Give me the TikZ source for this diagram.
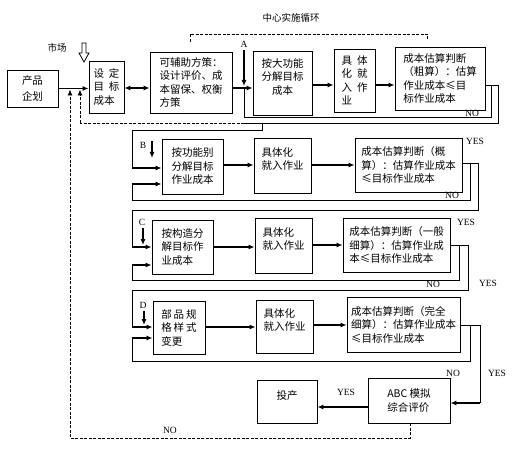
\documentclass[tikz,border=0pt]{standalone}
\usepackage{fontspec}
\setmainfont{Liberation Serif}
\newfontfamily\cjk{Noto Sans CJK SC}
\usetikzlibrary{arrows.meta,calc}
\begin{document}
\begin{tikzpicture}[x=1pt,y=-1pt,
  box/.style={draw, line width=0.9pt, inner sep=2pt, align=left, font=\cjk\fontsize{10.5}{13.5}\selectfont},
  lbl/.style={font=\fontsize{9.5}{10}\selectfont, inner sep=0},
  cjklbl/.style={font=\cjk\fontsize{9.5}{11}\selectfont, inner sep=0},
  conn/.style={line width=0.9pt},
  arr/.style={line width=1.1pt, -{Latex[length=6pt,width=5pt]}},
  dsh/.style={line width=0.9pt, dash pattern=on 3pt off 1.5pt},
]
\useasboundingbox (0,0) rectangle (515,452);
\fill[white] (0,0) rectangle (515,452);

% ---------- row 1 ----------
\node[box, minimum width=51pt, minimum height=37pt] (n1) at (32.5,88.5) {产品\\[3pt]企划};
\node[box, minimum width=35pt, minimum height=52pt] (n2) at (106.5,87) {设\hspace{5pt}定\\目\hspace{5pt}标\\成本};
\node[box, minimum width=82pt, minimum height=61pt] (n3) at (191,82.5) {可辅助方策：\\设计评价、成\\本留保、权衡\\方策};
\node[box, align=center, minimum width=59pt, minimum height=64pt] (n4) at (282.5,83) {按大功能\\分解目标\\成本\\~};
\node[box, minimum width=41pt, minimum height=63pt] (n5) at (354.5,80.5) {具\hspace{5pt}体\\化\hspace{5pt}就\\入\hspace{5pt}作\\业};
\node[box, minimum width=90pt, minimum height=63pt] (n6) at (440,78.5) {成本估算判断\\（粗算）：估算\\作业成本≤目\\标作业成本};

% ---------- row 2 ----------
\node[box, minimum width=61pt, minimum height=55pt] (n7) at (192.5,166.5) {按功能别\\分解目标\\作业成本};
\node[box, minimum width=57pt, minimum height=55pt] (n8) at (282.5,165.5) {具体化\\就入作业\\~};
\node[box, minimum width=107pt, minimum height=54pt] (n9) at (408.5,165) {成本估算判断（概\\算）：估算作业成本\\≤目标作业成本};

% ---------- row 3 ----------
\node[box, minimum width=61pt, minimum height=54pt] (n10) at (182.5,247) {按构造分\\解目标作\\业成本};
\node[box, minimum width=57pt, minimum height=55pt] (n11) at (283.5,245.5) {具体化\\就入作业\\~};
\node[box, minimum width=107pt, minimum height=54pt] (n12) at (396.5,245) {成本估算判断（一般\\细算）：估算作业成\\本≤目标作业成本};

% ---------- row 4 ----------
\node[box, minimum width=52pt, minimum height=53pt] (n13) at (179,327.5) {部\hspace{2pt}品\hspace{2pt}规\\格\hspace{2pt}样\hspace{2pt}式\\变更};
\node[box, minimum width=57pt, minimum height=53pt] (n14) at (284.5,326.5) {具体化\\就入作业\\~};
\node[box, minimum width=113pt, minimum height=55pt] (n15) at (403.5,324.5) {成本估算判断（完全\\细算）：估算作业成本\\≤目标作业成本};

% ---------- bottom ----------
\node[box, align=center, minimum width=60pt, minimum height=43pt] (n16) at (287,401.5) {投产\\~};
\node[box, minimum width=82pt, minimum height=45pt] (n17) at (409,400.5) {ABC 模拟\\综合评价};

% ---------- labels ----------
\node[cjklbl] (title) at (291,18) {中心实施循环};
\draw[dsh, line width=0.7pt] (190,42) -- (190,34) -- (427,34) -- (427,39);
\node[cjklbl] (mk) at (57,48) {市场};
\draw[line width=0.8pt, fill=white] (82,43) -- (86,43) -- (86,53) -- (89,53) -- (84,62) -- (79,53) -- (82,53) -- cycle;

\node[lbl] (la) at (244,44) {A};
\node[lbl] (lb) at (143,145) {B};
\node[lbl] (lc) at (142,222) {C};
\node[lbl] (ld) at (143,305) {D};

\node[lbl] (no1) at (472,113) {NO};
\node[lbl] (yes2) at (475,141) {YES};
\node[lbl] (no2) at (452,195) {NO};
\node[lbl] (yes3) at (466,222) {YES};
\node[lbl] (no3) at (433,284) {NO};
\node[lbl] (yes3b) at (488,283) {YES};
\node[lbl] (no4) at (453,373) {NO};
\node[lbl] (yes4) at (497,373) {YES};
\node[lbl] (yes5) at (346,392) {YES};
\node[lbl] (no5) at (170,430) {NO};

% ---------- row 1 connectors ----------
\draw[arr] (n1.east) -- (n2.west |- n1.east);
\draw[line width=1.1pt, {Latex[length=6pt,width=5pt]}-{Latex[length=6pt,width=5pt]}] (n2.east |- 0,88) -- (n3.west |- 0,88);
\draw[arr] (n3.east |- 0,88) -- (n4.west |- 0,88);
\draw[arr] (n4.east |- 0,85) -- (n5.west |- 0,85);
\draw[arr] (n5.east |- 0,85) -- (n6.west |- 0,85);
\draw[arr] (la.south) ++(0,3) -- (244,86);
\draw[conn] (n6.east |- 0,85) -- (491,85) -- (491,117) -- (244,117) -- (244,89);
\draw[conn] (491,85) -- (498,85) -- (498,123) -- (244,123);
\draw[dsh] (244,123) -- (80,123);
\draw[dsh, -{Latex[length=6pt,width=5pt]}] (80,123) -- (80,89.5);
\draw[dsh, -{Latex[length=6pt,width=5pt]}] (n17.south -| 410,0) -- (410,438) -- (70,438) -- (70,89.5);

% ---------- row 2 connectors ----------
\draw[conn] (262,123) -- (262,130) -- (132,130) -- (132,168);
\draw[arr] (132,168) -- (n7.west |- 0,168);
\draw[arr] (152,141) -- (152,158);
\draw[arr] (n7.east |- 0,165) -- (n8.west |- 0,165);
\draw[arr] (n8.east |- 0,165) -- (n9.west |- 0,165);
\draw[conn] (n9.east |- 0,163) -- (470,163) -- (470,200) -- (132,200) -- (132,184);
\draw[arr] (132,184) -- (n7.west |- 0,184);
\draw[conn] (470,163) -- (478,163) -- (478,210) -- (132,210) -- (132,247);

% ---------- row 3 connectors ----------
\draw[arr] (132,247) -- (n10.west |- 0,247);
\draw[arr] (143,228) -- (143,245);
\draw[arr] (n10.east |- 0,247) -- (n11.west |- 0,247);
\draw[arr] (n11.east |- 0,245) -- (n12.west |- 0,245);
\draw[conn] (n12.east |- 0,245) -- (459,245) -- (459,280) -- (132,280) -- (132,265);
\draw[arr] (132,265) -- (n10.west |- 0,265);
\draw[conn] (459,245) -- (468,245) -- (468,290) -- (132,290) -- (132,327);

% ---------- row 4 connectors ----------
\draw[arr] (132,327) -- (n13.west |- 0,327);
\draw[arr] (144,311) -- (144,325);
\draw[arr] (n13.east |- 0,327) -- (n14.west |- 0,327);
\draw[arr] (n14.east |- 0,325) -- (n15.west |- 0,325);
\draw[conn] (n15.east |- 0,325) -- (470,325) -- (470,361) -- (132,361) -- (132,338);
\draw[arr] (132,338) -- (n13.west |- 0,338);
\draw[conn] (470,325) -- (480,325) -- (480,403);
\draw[arr] (480,403) -- (n17.east |- 0,403);

% ---------- bottom connectors ----------
\draw[arr] (n17.west |- 0,407) -- (n16.east |- 0,407);
\end{tikzpicture}
\end{document}
